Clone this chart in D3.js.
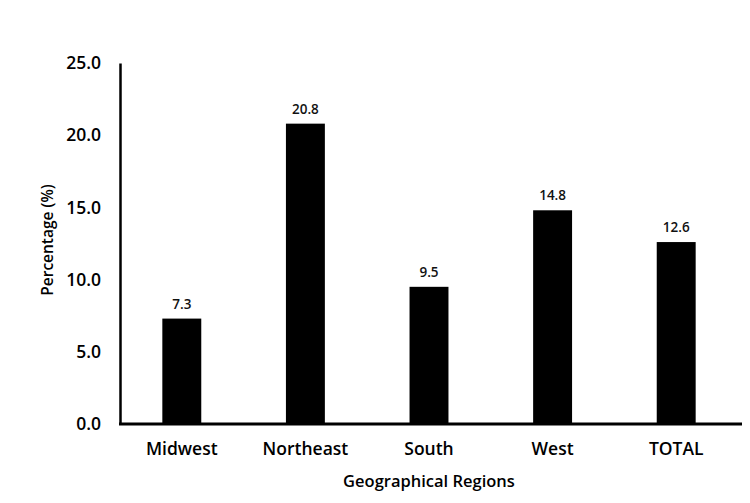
<!DOCTYPE html>
<html>
<head>
<meta charset="utf-8">
<script src="https://cdn.jsdelivr.net/npm/d3@7"></script>
<style>
  html, body { margin: 0; padding: 0; background: #fff; }
  svg { display: block; font-family: "Open Sans", "Liberation Sans", sans-serif; }
</style>
</head>
<body>
<svg id="chart" width="750" height="503"></svg>
<script>
const categories = ["Midwest", "Northeast", "South", "West", "TOTAL"];
const values = [7.3, 20.8, 9.5, 14.8, 12.6];
const yTicks = [0, 5, 10, 15, 20, 25];

const svg = d3.select("#chart");
const mLeft = 120, mRight = 738, mTop = 63, mBottom = 424;

const x = d3.scaleBand().domain(categories).range([mLeft, mRight]).paddingInner(0.685).paddingOuter(0.3425);
const y = d3.scaleLinear().domain([0, 25]).range([mBottom, mTop]);

// bars
svg.append("g").selectAll("rect").data(values).join("rect")
  .attr("x", (d, i) => x(categories[i]))
  .attr("y", d => y(d))
  .attr("width", x.bandwidth())
  .attr("height", d => y(0) - y(d))
  .attr("fill", "#000");

// value labels
svg.append("g").selectAll("text").data(values).join("text")
  .attr("x", (d, i) => x(categories[i]) + x.bandwidth() / 2)
  .attr("y", d => y(d) - 10)
  .attr("text-anchor", "middle")
  .attr("font-size", 13.5)
  .attr("font-weight", 600)
  .attr("fill", "#111")
  .text(d => d.toFixed(1));

// y axis
const yAxis = svg.append("g").attr("transform", `translate(${mLeft},0)`)
  .call(d3.axisLeft(y).tickValues(yTicks).tickFormat(d3.format(".1f")).tickSize(0).tickPadding(19));
yAxis.select(".domain").attr("stroke", "#000").attr("stroke-width", 2.5);
yAxis.selectAll("text").attr("font-size", 17.5).attr("font-weight", 600).attr("fill", "#000")
  .attr("font-family", "'Open Sans', sans-serif");

// x axis
const xAxis = svg.append("g").attr("transform", `translate(0,${mBottom})`)
  .call(d3.axisBottom(x).tickSize(0).tickPadding(19));
xAxis.select(".domain").attr("d", `M${mLeft - 1},0H742`).attr("stroke", "#000").attr("stroke-width", 3);
xAxis.selectAll("text").attr("font-size", 17.5).attr("font-weight", 600).attr("fill", "#000")
  .attr("font-family", "'Open Sans', sans-serif");

// axis titles
svg.append("text")
  .attr("x", (mLeft + 742) / 2 - 2)
  .attr("y", 487)
  .attr("text-anchor", "middle")
  .attr("font-size", 16.5)
  .attr("font-weight", 600)
  .attr("fill", "#000")
  .text("Geographical Regions");

svg.append("text")
  .attr("transform", "translate(53,240) rotate(-90)")
  .attr("text-anchor", "middle")
  .attr("font-size", 15.5)
  .attr("font-weight", 600)
  .attr("fill", "#000")
  .text("Percentage (%)");
</script>
</body>
</html>
